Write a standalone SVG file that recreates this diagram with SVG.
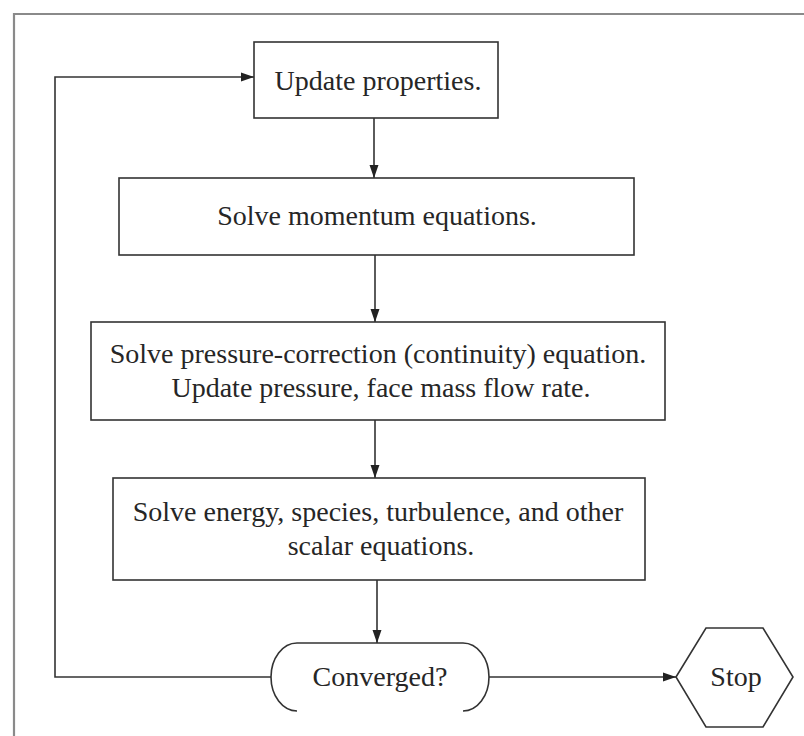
<svg xmlns="http://www.w3.org/2000/svg" width="804" height="736" viewBox="0 0 804 736">
  <style>
    .box { fill: #ffffff; stroke: #333333; stroke-width: 1.6; }
    .lbl { font-family: "Liberation Serif", "Times New Roman", serif; font-size: 28px; fill: #262626; text-anchor: middle; }
    .edge { fill: none; stroke: #333333; stroke-width: 1.6; }
    .frame { fill: none; stroke: #8a8a8a; stroke-width: 2.2; }
  </style>
  <defs>
    <marker id="arrow" markerUnits="userSpaceOnUse" markerWidth="14" markerHeight="12" refX="13" refY="6" orient="auto">
      <path d="M0,1.5 L13,6 L0,10.5 Z" fill="#222222"/>
    </marker>
  </defs>
  <rect width="804" height="736" fill="#ffffff"/>
  <path class="frame" d="M14,736 L14,14 L804,14"/>

  <g id="connectors">
    <line class="edge" x1="374" y1="118" x2="374" y2="178" marker-end="url(#arrow)"/>
    <line class="edge" x1="375" y1="255" x2="375" y2="322" marker-end="url(#arrow)"/>
    <line class="edge" x1="375" y1="420" x2="375" y2="478" marker-end="url(#arrow)"/>
    <line class="edge" x1="377" y1="580" x2="377" y2="643" marker-end="url(#arrow)"/>
    <path class="edge" d="M271,677 L55,677 L55,77 L254,77" marker-end="url(#arrow)"/>
    <line class="edge" x1="489" y1="677" x2="676" y2="677" marker-end="url(#arrow)"/>
  </g>

  <g id="update">
    <rect class="box" x="254" y="42" width="244" height="76"/>
    <text class="lbl" x="378" y="90">Update properties.</text>
  </g>
  <g id="momentum">
    <rect class="box" x="119" y="178" width="515" height="77"/>
    <text class="lbl" x="377" y="225">Solve momentum equations.</text>
  </g>
  <g id="pressure">
    <rect class="box" x="91" y="322" width="574" height="98"/>
    <text class="lbl" x="378" y="363">Solve pressure-correction (continuity) equation.</text>
    <text class="lbl" x="381" y="397">Update pressure, face mass flow rate.</text>
  </g>
  <g id="energy">
    <rect class="box" x="113" y="478" width="532" height="102"/>
    <text class="lbl" x="378" y="521">Solve energy, species, turbulence, and other</text>
    <text class="lbl" x="381" y="555">scalar equations.</text>
  </g>
  <g id="converged">
    <path class="edge" d="M297,711 A26,34 0 0 1 297,643 L463,643 A26,34 0 0 1 463,711"/>
    <text class="lbl" x="380" y="686">Converged?</text>
  </g>
  <g id="stop">
    <polygon class="box" points="676,677 706,628 763,628 793,677 763,727 706,727"/>
    <text class="lbl" x="736" y="686">Stop</text>
  </g>
</svg>
